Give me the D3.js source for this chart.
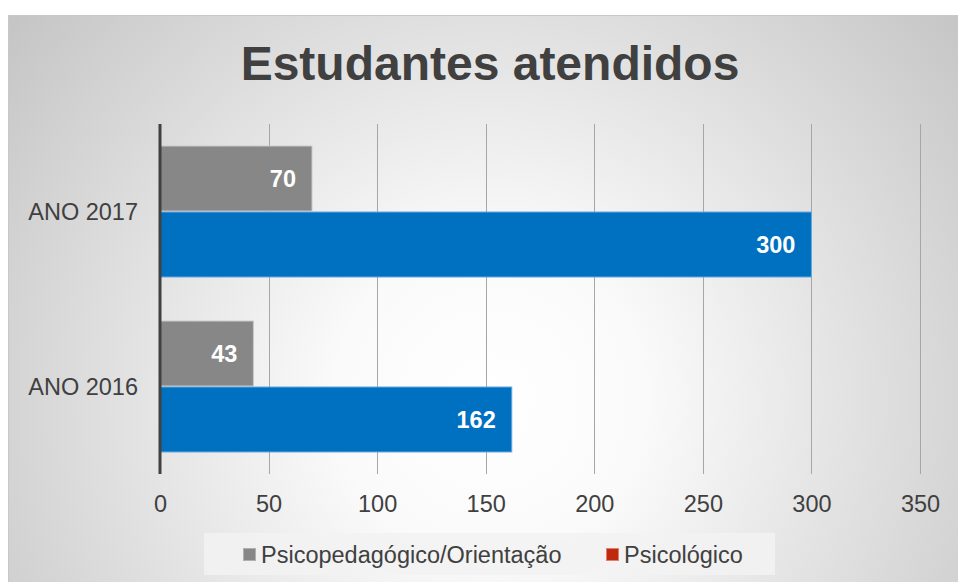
<!DOCTYPE html>
<html><head><meta charset="utf-8">
<script src="https://cdn.jsdelivr.net/npm/d3@7"></script>
<style>body{margin:0;background:#fff;}svg{display:block;font-family:"Liberation Sans",Arial,sans-serif;}</style>
</head><body>
<script>
const categories = ["ANO 2017", "ANO 2016"];
const seriesNames = ["Psicopedagógico/Orientação", "Psicológico"];
const psicopedagogico = [70, 43];
const psicologico = [300, 162];
const xTicks = [0, 50, 100, 150, 200, 250, 300, 350];
const title = "Estudantes atendidos";

const W = 958, H = 582;
const svg = d3.select("body").append("svg").attr("width", W).attr("height", H);
const defs = svg.append("defs");
const grad = defs.append("radialGradient").attr("id","bg")
  .attr("gradientUnits","userSpaceOnUse").attr("cx",490).attr("cy",400).attr("r",620);
grad.append("stop").attr("offset","0%").attr("stop-color","#ffffff");
grad.append("stop").attr("offset","25%").attr("stop-color","#fafafa");
grad.append("stop").attr("offset","100%").attr("stop-color","#c4c4c4");

svg.append("rect").attr("x",8).attr("y",15).attr("width",W-8).attr("height",H-15).attr("fill","url(#bg)");
svg.append("line").attr("x1",8).attr("x2",W).attr("y1",15.5).attr("y2",15.5).attr("stroke","#c8c8c8");
svg.append("line").attr("x1",8.5).attr("x2",8.5).attr("y1",15).attr("y2",H).attr("stroke","#c8c8c8");

svg.append("text").attr("x",490).attr("y",80).attr("text-anchor","middle")
  .attr("font-size",48).attr("font-weight","bold").attr("fill","#404040").text(title);

const x = d3.scaleLinear().domain([0,350]).range([160,920]);
const y0 = d3.scaleBand().domain(categories).range([124,474]).paddingInner(0.2457).paddingOuter(0.1229);
const y1 = d3.scaleBand().domain(seriesNames).range([0, y0.bandwidth()]);

// gridlines
svg.append("g").selectAll("line").data(xTicks.slice(1)).join("line")
  .attr("x1",d=>Math.round(x(d))+0.5).attr("x2",d=>Math.round(x(d))+0.5)
  .attr("y1",124).attr("y2",474).attr("stroke","#a6a6a6").attr("stroke-width",1);

const data = categories.map((c,i)=>({cat:c, vals:[psicopedagogico[i], psicologico[i]]}));
const fills = ["#878787", "#0070C0"];
const strokes = ["#c9c9c9", "#69a8dc"];

const g = svg.append("g");
data.forEach(d=>{
  d.vals.forEach((v,j)=>{
    const yy = y0(d.cat) + y1(seriesNames[j]);
    g.append("rect").attr("x",x(0)).attr("y",yy+0.5).attr("width",x(v)-x(0)).attr("height",y1.bandwidth()-1)
      .attr("fill",fills[j]).attr("stroke",strokes[j]).attr("stroke-width",1);
    g.append("text").attr("x",x(v)-16).attr("y",yy+y1.bandwidth()/2+8.5).attr("text-anchor","end")
      .attr("font-size",23.5).attr("font-weight","bold").attr("fill","#ffffff").text(v);
  });
});

// left axis line
svg.append("line").attr("x1",160).attr("x2",160).attr("y1",124).attr("y2",474)
  .attr("stroke","#404040").attr("stroke-width",3);

// category labels
svg.append("g").selectAll("text").data(categories).join("text")
  .attr("x",138).attr("y",d=>y0(d)+y0.bandwidth()/2+8.5).attr("text-anchor","end")
  .attr("font-size",23.5).attr("fill","#404040").text(d=>d);

// x axis tick labels
const xAxis = d3.axisBottom(x).tickValues(xTicks).tickSize(0).tickPadding(0);
const ax = svg.append("g").attr("transform","translate(0,511.5)").call(xAxis);
ax.select(".domain").remove();
ax.selectAll("text").attr("font-size",23.5).attr("fill","#404040").attr("dy",0)
  .attr("font-family","'Liberation Sans',Arial,sans-serif");

// legend
svg.append("rect").attr("x",204).attr("y",533).attr("width",571).attr("height",42).attr("fill","#f2f2f2").attr("opacity",0.85);
const legColors = ["#878787", "#C0280F"];
const legStroke = ["#b0b0b0", "#e08070"];
const legX = [243, 606];
seriesNames.forEach((s,i)=>{
  svg.append("rect").attr("x",legX[i]+0.5).attr("y",548.5).attr("width",12).attr("height",12)
    .attr("fill",legColors[i]).attr("stroke",legStroke[i]).attr("stroke-width",1);
  svg.append("text").attr("x",legX[i]+18).attr("y",562.5).attr("font-size",23.5).attr("fill","#404040").text(s);
});
</script>
</body></html>
